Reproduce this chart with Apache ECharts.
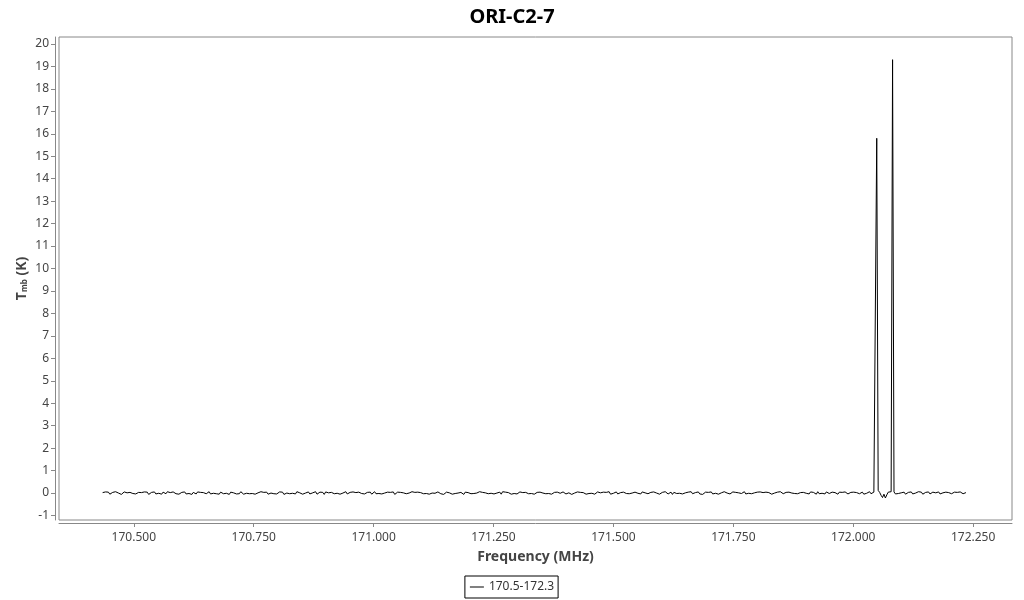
<!DOCTYPE html>
<html><head><meta charset="utf-8">
<script src="https://cdn.jsdelivr.net/npm/echarts@6/dist/echarts.min.js"></script>
<style>html,body{margin:0;padding:0;background:#fff}#c{width:1024px;height:600px}</style>
</head><body><div id="c"></div>
<script>
const titleText = 'ORI-C2-7';
const seriesName = '170.5-172.3';
const freqStart = 170.435;   // MHz, first channel
const chanWidth = 0.003;     // MHz per channel
const tmb = [
 0.02,-0.03,0.05,-0.01,0.04,-0.05,0.01,0.03,-0.04,0.06,-0.02,0.00,0.04,-0.06,0.02,0.05,-0.03,0.01,-0.05,0.03,
 0.04,-0.02,0.06,-0.04,0.01,0.03,-0.05,0.02,-0.01,0.05,-0.03,0.04,-0.06,0.00,0.03,-0.02,0.05,-0.04,0.02,-0.01,
 0.03,-0.05,0.04,0.01,-0.03,0.06,-0.02,0.02,-0.04,0.05,0.00,-0.03,0.04,-0.05,0.02,0.03,-0.01,0.05,-0.04,0.01,
 -0.02,0.04,-0.06,0.03,0.01,-0.04,0.05,-0.02,0.03,-0.05,0.02,0.04,-0.03,0.00,0.06,-0.04,0.02,-0.01,0.05,-0.03,
 0.01,-0.05,0.04,0.02,-0.03,0.05,-0.01,0.03,-0.06,0.04,-0.02,0.01,0.05,-0.04,0.02,-0.03,0.06,0.00,-0.05,0.03,
 -0.01,0.04,-0.03,0.05,-0.02,0.02,-0.05,0.03,0.01,-0.04,0.06,-0.02,0.03,-0.01,0.04,-0.05,0.02,0.00,0.05,-0.03,
 0.03,-0.04,0.01,0.05,-0.02,0.04,-0.06,0.02,0.00,0.03,-0.03,0.05,-0.01,0.02,-0.04,0.06,-0.02,0.01,0.04,-0.05,
 0.02,0.00,-0.03,0.05,-0.04,0.03,0.01,-0.02,0.06,-0.05,0.02,0.04,-0.01,0.03,-0.06,0.05,-0.02,0.01,-0.04,0.03,
 0.05,-0.03,0.02,-0.01,0.04,-0.05,0.03,0.00,-0.02,0.06,-0.04,0.01,0.03,-0.03,0.05,-0.01,0.02,-0.06,0.04,0.00,
 -0.02,0.05,-0.04,0.02,0.03,-0.01,0.04,-0.05,0.01,0.06,-0.03,0.02,-0.02,0.05,-0.04,0.03,0.00,-0.05,0.04,0.01,
 0.03,-0.02,0.05,-0.06,0.02,0.04,-0.01,0.03,-0.04,0.01,0.05,-0.03,0.02,0.00,-0.05,0.06,-0.02,0.03,-0.01,0.04,
 -0.04,0.02,0.05,-0.03,0.01,-0.02,0.06,-0.05,0.03,0.00,0.04,-0.01,-0.04,0.05,0.02,-0.03,0.03,-0.06,0.01,0.04,
 -0.03,0.01,0.04,-0.05,0.02,-0.02,0.05,0.00,-0.04,0.03,0.01,-0.06,0.04,-0.01,0.02,0.05,-0.03,0.03,-0.02,0.04,
 0.00,-0.04,0.06,-0.02,0.03,-0.05,0.01,0.04,-0.03,0.02,-0.01,0.05,-0.04,0.03,0.00,-0.02,0.04,-0.05,0.06,-0.01,
 0.04,-0.03,0.02,0.01,-0.05,0.03,-0.02,0.06,-0.04,0.00,0.05,-0.01,0.02,-0.06,0.03,0.01,-0.03,0.04,-0.02,0.05,
 -0.05,0.02,0.03,-0.01,0.04,-0.04,0.00,0.05,-0.03,0.02,-0.02,0.06,-0.05,0.01,0.03,-0.04,0.04,0.00,-0.01,0.02,
 0.05,-0.02,-0.04,0.03,0.01,0.04,-0.06,0.02,0.00,-0.03,0.05,-0.01,0.03,-0.04,0.02,0.06,-0.05,0.01,-0.02,0.03,
 -0.01,0.04,-0.05,0.02,0.05,-0.03,0.01,0.00,0.04,-0.04,0.03,-0.02,0.06,-0.05,0.02,-0.01,0.03,0.05,-0.04,0.00,
 0.02,-0.06,0.04,0.01,-0.02,0.05,-0.03,0.03,0.00,-0.05,0.04,0.02,-0.01,0.03,-0.04,0.05,-0.02,0.01,0.06,-0.03,
 0.01,0.03,-0.04,0.05,-0.02,0.00,0.04,-0.05,0.02,0.03,-0.03,0.06,-0.01,-0.04,0.02,0.04,-0.06,0.03,0.00,-0.02,
 0.05,-0.01,0.02,-0.04,0.03,0.01,-0.05,0.04,-0.02,0.06,-0.03,0.00,0.02,-0.01,0.05,-0.04,0.03,-0.06,0.01,0.04,
 -0.02,0.03,0.00,0.05,-0.04,0.02,-0.01,0.04,-0.05,0.03,0.01,-0.03,0.06,-0.02,0.00,0.04,-0.04,0.02,0.05,-0.01,
 0.03,-0.05,0.01,0.04,-0.02,0.02,0.06,-0.04,0.00,-0.01,0.05,-0.03,0.03,0.01,-0.06,0.04,-0.02,0.05,-0.01,0.02,
 -0.03,0.04,-0.01,0.02,0.05,-0.05,0.03,0.00,-0.02,0.04,-0.04,0.06,0.01,-0.03,0.02,0.03,-0.05,0.04,-0.01,0.00,
 0.04,-0.02,0.05,-0.03,0.01,0.02,-0.06,0.03,0.04,-0.01,0.00,-0.04,0.05,-0.02,0.03,0.01,-0.05,0.06,-0.03,0.02,
 -0.01,0.03,-0.04,0.05,0.00,-0.02,-0.08,0.04,-0.03,0.02,0.01,-0.05,0.04,-0.01,0.03,-0.03,0.05,0.00,-0.04,0.02,
 0.03,-0.02,0.04,-0.04,0.02,0.05,-0.03,0.01,0.04,-0.05,0.03,-0.01,0.02,0.06,-0.03,0.01,0.04,0.08,15.8,0.12,
 0.03,-0.10,-0.20,-0.05,-0.22,-0.08,0.04,0.02,0.06,19.3,0.05,-0.04,0.03,-0.02,0.05,0.01,-0.03,0.04,-0.05,0.02,
 0.03,-0.01,0.05,-0.04,0.02,0.00,-0.03,0.06,-0.02,0.04,-0.05,0.01,0.03,-0.01,0.05,-0.04,0.02,0.04,-0.03,0.01,
 -0.02,0.05,-0.04,0.03,0.01,-0.05,0.04,-0.01,0.02,0.06,-0.03,0.00,0.04,-0.02,0.03,-0.05,0.05,0.01,-0.03,0.04,
 0.02
];
const yTicks = [-1,0,1,2,3,4,5,6,7,8,9,10,11,12,13,14,15,16,17,18,19,20];
const xTicks = [170.5,170.75,171.0,171.25,171.5,171.75,172.0,172.25];

const data = tmb.map((v, i) => [freqStart + i * chanWidth, v]);
const FONT = 'Noto Sans';
const chart = echarts.init(document.getElementById('c'), null, {renderer: 'canvas'});
chart.setOption({
  animation: false,
  backgroundColor: '#fff',
  textStyle: {fontFamily: FONT},
  title: {text: titleText, left: 'center', top: 2,
    textStyle: {fontFamily: FONT, fontSize: 20, fontWeight: 'bold', color: '#000'}},
  grid: {left: 59, right: 12, top: 37, bottom: 80, show: true, borderColor: '#888', borderWidth: 1, containLabel: false},
  legend: {bottom: 2, left: 'center', data: [{name: seriesName, icon: 'path://M0,0 L14,0 L14,1 L0,1 Z'}],
    itemWidth: 14, itemHeight: 1, itemGap: 4,
    borderColor: '#000', borderWidth: 1, borderRadius: 0, padding: [5, 4, 5, 5],
    textStyle: {fontFamily: FONT, fontSize: 12, color: '#333'}},
  xAxis: {type: 'value', min: 170.344, max: 172.331, offset: 3,
    name: 'Frequency (MHz)', nameLocation: 'middle', nameGap: 27, nameMoveOverlap: false,
    nameTextStyle: {fontFamily: FONT, fontSize: 14, fontWeight: 'bold', color: '#444'},
    axisLine: {show: true, onZero: false, lineStyle: {color: '#888', width: 1}},
    axisTick: {show: true, length: 4, customValues: xTicks, lineStyle: {color: '#888'}},
    axisLabel: {customValues: xTicks, fontFamily: FONT, fontSize: 12, color: '#444', margin: 9,
      formatter: v => v.toFixed(3)},
    splitLine: {show: false}},
  yAxis: {type: 'value', min: -1.2, max: 20.31, offset: 4,
    name: '{t|T}{s|mb}{t| (K)}', nameLocation: 'middle', nameGap: 26, nameRotate: 90, nameMoveOverlap: false,
    nameTextStyle: {rich: {
      t: {fontFamily: FONT, fontSize: 14, fontWeight: 'bold', color: '#444'},
      s: {fontFamily: FONT, fontSize: 8, fontWeight: 'bold', color: '#444', verticalAlign: 'bottom', padding: [6, 0, 0, 0]}}},
    axisLine: {show: true, onZero: false, lineStyle: {color: '#888', width: 1}},
    axisTick: {show: true, length: 4, customValues: yTicks, lineStyle: {color: '#888'}},
    axisLabel: {customValues: yTicks, fontFamily: FONT, fontSize: 12, color: '#444', margin: 6},
    splitLine: {show: false}},
  series: [{name: seriesName, type: 'line', data: data, showSymbol: false, symbol: 'none',
    sampling: 'none', lineStyle: {color: '#000', width: 1}, itemStyle: {color: '#000'}}]
});
</script></body></html>
